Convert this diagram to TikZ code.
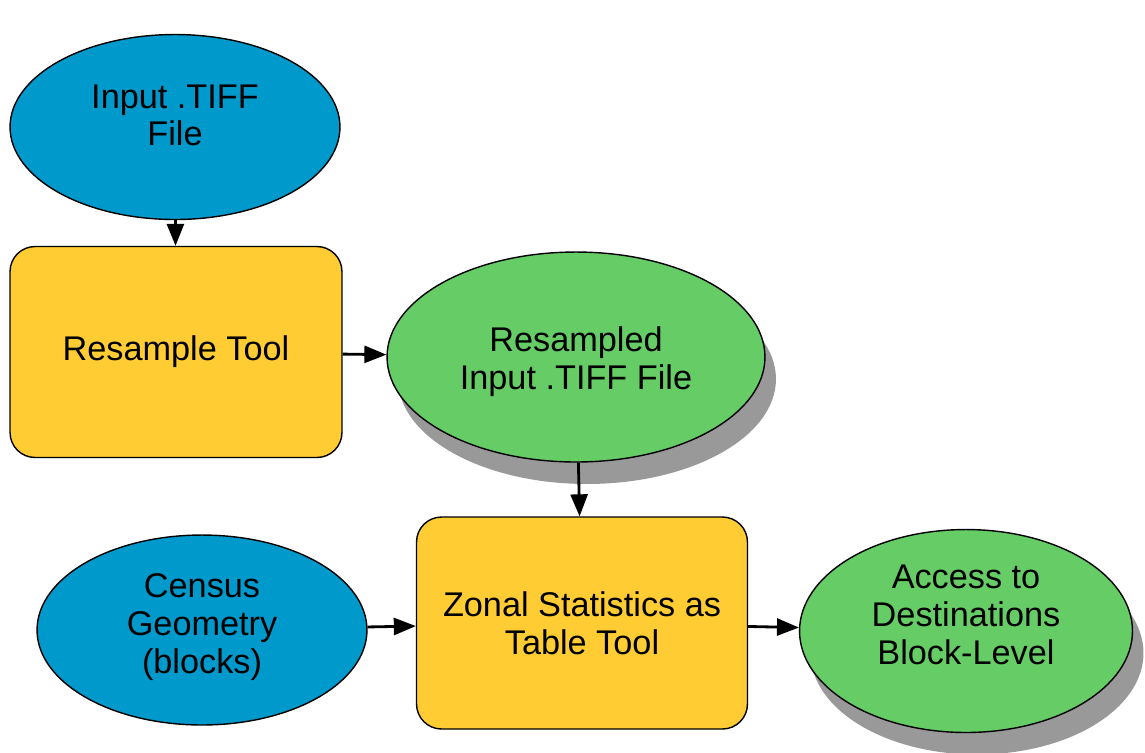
\documentclass[tikz,border=0pt]{standalone}
\usepackage{fontspec}
\setmainfont{Liberation Sans}
\usepackage{tikz}
\usetikzlibrary{arrows.meta,shapes.geometric,shadows}

\definecolor{inputblue}{RGB}{0,153,204}
\definecolor{toolyellow}{RGB}{255,204,51}
\definecolor{outgreen}{RGB}{102,204,102}

\begin{document}
\begin{tikzpicture}[x=0.02cm,y=-0.02cm,->,>={Triangle[length=0.44cm,width=0.34cm]},line width=1.6pt,
  every node/.style={font=\fontsize{19.5}{21.5}\selectfont,align=center,draw=black,line width=0.8pt,inner sep=0pt},
  indata/.style={ellipse,fill=inputblue},
  tool/.style={rectangle,rounded corners=0.5cm,fill=toolyellow},
  outdata/.style={ellipse,fill=outgreen,drop shadow={shadow xshift=0.22cm,shadow yshift=-0.44cm,fill=black!40,opacity=1}}]
 \useasboundingbox (0,0) rectangle (1145,752);

 % an empty first/last line nudges the text inside some shapes
 \node[indata,minimum width=6.6cm,minimum height=3.7cm]
              (tiff) at (175,127) {Input .TIFF\\File\\[-8pt]\mbox{}};
 \node[tool,minimum width=6.64cm,minimum height=4.22cm]
              (resample) at (176,352) {Resample Tool};
 \node[outdata,minimum width=7.56cm,minimum height=4.2cm]
              (resampled) at (576,357) {\mbox{}\\[-2pt]Resampled\\Input .TIFF File};
 \node[indata,minimum width=6.6cm,minimum height=3.8cm]
              (census) at (202,630) {Census\\Geometry\\(blocks)\\[-14pt]\mbox{}};
 \node[tool,minimum width=6.62cm,minimum height=4.24cm]
              (zonal) at (582,623) {Zonal Statistics as\\Table Tool};
 \node[outdata,minimum width=6.66cm,minimum height=4.06cm]
              (access) at (966,631) {Access to\\Destinations\\Block-Level\\[-3pt]\mbox{}};

 \draw (tiff) -- (resample);
 \draw (resample) -- (resampled);
 \draw (resampled) -- (zonal);
 \draw (census) -- (zonal);
 \draw (zonal) -- (access);
\end{tikzpicture}
\end{document}
